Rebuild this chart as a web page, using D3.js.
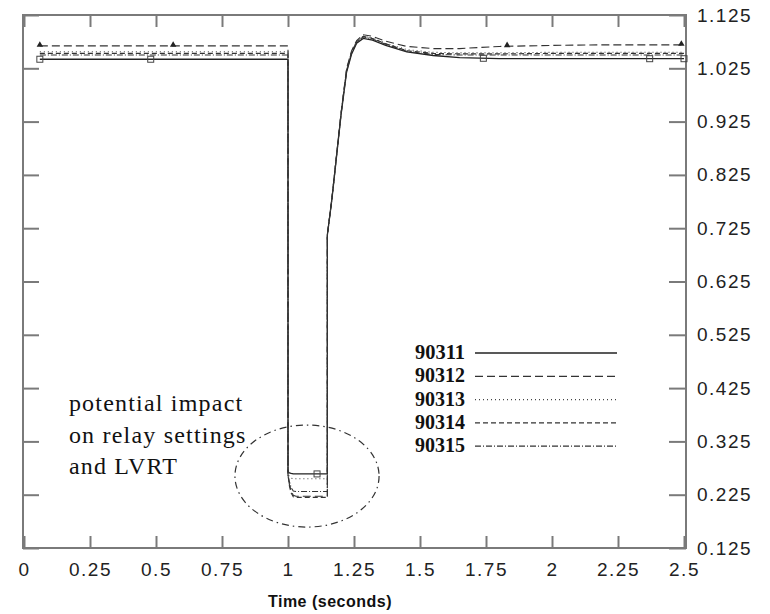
<!DOCTYPE html>
<html>
<head>
<meta charset="utf-8">
<script src="https://cdn.jsdelivr.net/npm/d3@7"></script>
<style>
body { margin: 0; background: #fff; }
.axis text { font-family: "Liberation Sans", Arial, sans-serif; font-size: 19px; letter-spacing: 1.5px; fill: #222; }
.axis path, .axis line { stroke: #7a7a7a; stroke-width: 2; }
</style>
</head>
<body>
<div id="chart"></div>
<script>
// time samples (seconds) shared by all buses
var times = [0.06, 1.0, 1.0, 1.005, 1.012, 1.02, 1.03, 1.149, 1.149, 1.166, 1.185, 1.201, 1.222, 1.241, 1.26, 1.285, 1.32, 1.37, 1.45, 1.55, 1.65, 1.8, 2.0, 2.2, 2.5];

// bus voltages (pu)
var v90311 = [1.042, 1.042, 0.268, 0.266, 0.265, 0.264, 0.264, 0.264, 0.712, 0.778, 0.865, 0.938, 1.018, 1.052, 1.072, 1.081, 1.078, 1.068, 1.056, 1.049, 1.045, 1.043, 1.043, 1.043, 1.043];
var v90312 = [1.067, 1.067, 0.262, 0.245, 0.232, 0.224, 0.222, 0.222, 0.712, 0.780, 0.868, 0.942, 1.025, 1.058, 1.077, 1.088, 1.085, 1.076, 1.066, 1.062, 1.062, 1.066, 1.068, 1.069, 1.069];
var v90313 = [1.056, 1.056, 0.264, 0.259, 0.256, 0.255, 0.255, 0.255, 0.712, 0.779, 0.866, 0.940, 1.022, 1.056, 1.075, 1.085, 1.082, 1.072, 1.060, 1.055, 1.054, 1.054, 1.055, 1.055, 1.055];
var v90314 = [1.053, 1.053, 0.262, 0.242, 0.228, 0.221, 0.220, 0.220, 0.712, 0.779, 0.866, 0.940, 1.022, 1.056, 1.075, 1.085, 1.081, 1.071, 1.058, 1.053, 1.052, 1.052, 1.053, 1.053, 1.053];
var v90315 = [1.050, 1.050, 0.263, 0.250, 0.238, 0.232, 0.231, 0.231, 0.712, 0.779, 0.866, 0.939, 1.020, 1.054, 1.074, 1.084, 1.080, 1.070, 1.057, 1.051, 1.050, 1.050, 1.050, 1.050, 1.050];

var busNames = ["90311", "90312", "90313", "90314", "90315"];
var busValues = [v90311, v90312, v90313, v90314, v90315];

// marker times (plot symbols)
var squareTimes = [0.06, 0.48, 1.11, 1.74, 2.37, 2.5];
var triangleTimes = [0.06, 0.565, 1.83, 2.49];

var xTicks = [0, 0.25, 0.5, 0.75, 1, 1.25, 1.5, 1.75, 2, 2.25, 2.5];
var yTicks = [0.125, 0.225, 0.325, 0.425, 0.525, 0.625, 0.725, 0.825, 0.925, 1.025, 1.125];

var annotationLines = ["potential impact", "on relay settings", "and LVRT"];

// line styles per bus
var dashes = ["none", "8,4", "1,3", "5,3", "6,2,1,2"];
var strokes = ["#222", "#333", "#444", "#333", "#333"];

var width = 770, height = 614;
var fLeft = 23, fRight = 686, fTop = 15, fBottom = 548;

var svg = d3.select("#chart").append("svg")
	.attr("width", width)
	.attr("height", height);

var x = d3.scaleLinear().domain([0, 2.5]).range([24, 684]);
var y = d3.scaleLinear().domain([0.125, 1.125]).range([fBottom, fTop]);

// frame + ticks
svg.append("g").attr("class", "axis")
	.attr("transform", "translate(0," + fBottom + ")")
	.call(d3.axisBottom(x).tickValues(xTicks).tickSize(-12).tickSizeOuter(0).tickPadding(15)
		.tickFormat(function(d) { return String(d); }));
svg.append("g").attr("class", "axis")
	.attr("transform", "translate(0," + fTop + ")")
	.call(d3.axisTop(x).tickValues(xTicks).tickSize(-12).tickSizeOuter(0).tickFormat(""));
svg.append("g").attr("class", "axis")
	.attr("transform", "translate(" + fRight + ",0)")
	.call(d3.axisRight(y).tickValues(yTicks).tickSize(-17).tickSizeOuter(0).tickPadding(11)
		.tickFormat(d3.format(".3f")));
svg.append("g").attr("class", "axis")
	.attr("transform", "translate(" + fLeft + ",0)")
	.call(d3.axisLeft(y).tickValues(yTicks).tickSize(-16).tickSizeOuter(0).tickFormat(""));
svg.selectAll(".axis .domain").remove();
svg.append("rect")
	.attr("x", fLeft).attr("y", fTop)
	.attr("width", fRight - fLeft).attr("height", fBottom - fTop)
	.attr("fill", "none").attr("stroke", "#7a7a7a").attr("stroke-width", 2);

svg.append("text")
	.attr("x", 330).attr("y", 607)
	.attr("text-anchor", "middle")
	.style("font-family", "'Liberation Sans', Arial, sans-serif")
	.style("font-size", "16px").style("font-weight", "bold").style("letter-spacing", "0.5px")
	.attr("fill", "#111")
	.text("Time (seconds)");

// series
var line = d3.line()
	.x(function(d) { return x(d[0]); })
	.y(function(d) { return y(d[1]); });

var plot = svg.append("g");
busValues.forEach(function(vals, i) {
	plot.append("path")
		.datum(times.map(function(t, j) { return [t, vals[j]]; }))
		.attr("fill", "none")
		.attr("stroke", strokes[i])
		.attr("stroke-width", i == 0 ? 1.3 : 1.1)
		.attr("stroke-dasharray", dashes[i])
		.attr("d", line);
});

function valueAt(vals, t) {
	var j = d3.bisectRight(times, t);
	if (j <= 0) return vals[0];
	if (j >= times.length) return vals[times.length - 1];
	var t0 = times[j - 1], t1 = times[j];
	if (t1 == t0) return vals[j];
	return vals[j - 1] + (vals[j] - vals[j - 1]) * (t - t0) / (t1 - t0);
}

plot.selectAll("rect.sq")
	.data(squareTimes)
	.enter().append("rect")
	.attr("class", "sq")
	.attr("x", function(d) { return x(d) - 3; })
	.attr("y", function(d) { return y(valueAt(v90311, d)) - 3; })
	.attr("width", 6).attr("height", 6)
	.attr("fill", "none").attr("stroke", "#444").attr("stroke-width", 1);

plot.selectAll("path.tri")
	.data(triangleTimes)
	.enter().append("path")
	.attr("class", "tri")
	.attr("transform", function(d) { return "translate(" + x(d) + "," + (y(valueAt(v90312, d)) - 1) + ")"; })
	.attr("d", d3.symbol().type(d3.symbolTriangle).size(18))
	.attr("fill", "#222");

// legend
var legend = svg.append("g");
busNames.forEach(function(name, i) {
	var ly = 352 + i * 23.3;
	legend.append("text")
		.attr("x", 415).attr("y", ly + 7)
		.attr("textLength", 50).attr("lengthAdjust", "spacingAndGlyphs")
		.style("font-family", "'Liberation Serif', 'Times New Roman', serif")
		.style("font-size", "21px").style("font-weight", "bold")
		.attr("fill", "#111")
		.text(name);
	legend.append("line")
		.attr("x1", 475).attr("x2", 617)
		.attr("y1", ly + 1).attr("y2", ly + 1)
		.attr("stroke", strokes[i])
		.attr("stroke-width", i == 0 ? 1.5 : 1.2)
		.attr("stroke-dasharray", dashes[i]);
});

// annotation
var ann = svg.append("g");
annotationLines.forEach(function(s, i) {
	ann.append("text")
		.attr("x", x(0.17)).attr("y", 411 + i * 31.5)
		.style("font-family", "'Liberation Serif', 'Times New Roman', serif")
		.style("font-size", "24px").style("letter-spacing", "1.2px")
		.attr("fill", "#111")
		.text(s);
});
ann.append("ellipse")
	.attr("cx", x(1.072)).attr("cy", y(0.26))
	.attr("rx", x(1.072 + 0.273) - x(1.072))
	.attr("ry", y(0.26) - y(0.26 + 0.0957))
	.attr("fill", "none")
	.attr("stroke", "#333").attr("stroke-width", 1.2)
	.attr("stroke-dasharray", "7,4,1.5,4");
</script>
</body>
</html>
